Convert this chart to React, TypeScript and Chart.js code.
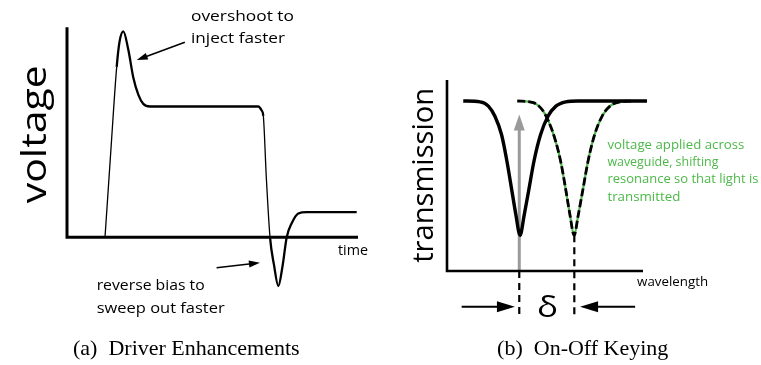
import React, { useEffect, useRef } from "react";
import { Chart, registerables } from "chart.js";

Chart.register(...registerables);

const SANS = '"Open Sans", "Noto Sans", sans-serif';
const SERIF = '"Liberation Serif", "DejaVu Serif", serif';
const GREEN = "rgb(76,184,72)";

// ---------- (a) Driver Enhancements: voltage vs time ----------
const driveTime = [13.06, 15.05, 17.08, 18.04, 19.35, 21.07, 22.78, 24.5, 26.22, 28.52, 65.74, 66.9, 67.46, 68.5, 69.76, 71.13, 72.61, 74.06, 75.5, 77.22, 79.48, 82.37, 99.55];
const driveVoltage = [0, 0.65, 1.29, 1.48, 1.56, 1.42, 1.21, 1.08, 1.01, 0.99, 0.99, 0.96, 0.92, 0.45, 0, -0.21, -0.37, -0.22, 0, 0.106, 0.18, 0.19, 0.19];

// ---------- (b) On-Off Keying: transmission vs wavelength ----------
const wavelengthOff = [8.2, 16.7, 20.9, 24.2, 27.6, 30.2, 32.8, 34.8, 36.9, 39.0, 41.2, 44.0, 47.2, 51.0, 55.0, 60.0, 66.0, 101];
const transmissionOff = [1.0, 0.995, 0.97, 0.91, 0.8, 0.65, 0.47, 0.33, 0.21, 0.33, 0.47, 0.65, 0.8, 0.91, 0.97, 0.995, 1.0, 1.0];
const wavelengthOn = [35.5, 43.6, 48.0, 51.3, 54.7, 57.5, 60.1, 62.1, 64.2, 66.3, 68.5, 71.3, 74.5, 78.3, 82.3, 87.3, 93.3];
const transmissionOn = [1.0, 0.99, 0.95, 0.88, 0.77, 0.64, 0.47, 0.33, 0.21, 0.33, 0.47, 0.65, 0.8, 0.91, 0.97, 0.995, 1.0];

const greenNote = ["voltage applied across", "waveguide, shifting", "resonance so that light is", "transmitted"];
const greenNoteWidths = [137, 111, 151, 73];

type TextOpt = { size: number; width?: number; color?: string; align?: "left" | "center" | "right"; rotate?: boolean; family?: string };

function label(ctx: CanvasRenderingContext2D, str: string, x: number, y: number, o: TextOpt) {
  ctx.save();
  ctx.translate(x, y);
  if (o.rotate) ctx.rotate(-Math.PI / 2);
  ctx.font = `${o.size}px ${o.family ?? SANS}`;
  ctx.fillStyle = o.color ?? "#000";
  ctx.textBaseline = "alphabetic";
  ctx.textAlign = "left";
  const w = ctx.measureText(str).width;
  const sx = o.width ? o.width / w : 1;
  ctx.scale(sx, 1);
  const off = o.align === "center" ? -w / 2 : o.align === "right" ? -w : 0;
  ctx.fillText(str, off, 0);
  ctx.restore();
}

function polyline(ctx: CanvasRenderingContext2D, pts: number[][], color: string, lw: number, dash: number[] = []) {
  ctx.save();
  ctx.strokeStyle = color;
  ctx.lineWidth = lw;
  ctx.setLineDash(dash);
  ctx.lineCap = "butt";
  ctx.lineJoin = "miter";
  ctx.beginPath();
  pts.forEach((p, i) => (i === 0 ? ctx.moveTo(p[0], p[1]) : ctx.lineTo(p[0], p[1])));
  ctx.stroke();
  ctx.restore();
}

function arrow(ctx: CanvasRenderingContext2D, x1: number, y1: number, x2: number, y2: number, color: string, lw: number, hl: number, hw: number) {
  const a = Math.atan2(y2 - y1, x2 - x1);
  ctx.save();
  ctx.strokeStyle = color;
  ctx.fillStyle = color;
  ctx.lineWidth = lw;
  ctx.beginPath();
  ctx.moveTo(x1, y1);
  ctx.lineTo(x2 - Math.cos(a) * hl * 0.8, y2 - Math.sin(a) * hl * 0.8);
  ctx.stroke();
  ctx.translate(x2, y2);
  ctx.rotate(a);
  ctx.beginPath();
  ctx.moveTo(0, 0);
  ctx.lineTo(-hl, -hw / 2);
  ctx.lineTo(-hl, hw / 2);
  ctx.closePath();
  ctx.fill();
  ctx.restore();
}

function mapper(chart: any) {
  const xs = chart.scales.x;
  const ys = chart.scales.y;
  return (x: number, y: number) => [xs.getPixelForValue(x), ys.getPixelForValue(y)];
}

const driverPlugin = {
  id: "driverAnnotations",
  afterDraw(chart: any) {
    const ctx: CanvasRenderingContext2D = chart.ctx;
    const p = mapper(chart);
    // axes
    polyline(ctx, [p(0, 1.59), p(0, 0), p(100, 0)], "#000", 3);
    // axis titles
    let q = p(-7.2, 0.78);
    label(ctx, "voltage", q[0], q[1], { size: 34, width: 138, rotate: true, align: "center" });
    q = p(93.1, -0.135);
    label(ctx, "time", q[0], q[1], { size: 15, width: 30 });
    // overshoot note
    q = p(42.6, 1.64);
    label(ctx, "overshoot to", q[0], q[1], { size: 15, width: 103 });
    q = p(42.6, 1.469);
    label(ctx, "inject faster", q[0], q[1], { size: 15, width: 94 });
    let a = p(40.5, 1.476);
    let b = p(23.95, 1.342);
    arrow(ctx, a[0], a[1], b[0], b[1], "#000", 1.6, 11, 7);
    // reverse bias note
    q = p(10.2, -0.4);
    label(ctx, "reverse bias to", q[0], q[1], { size: 15, width: 108 });
    q = p(10.2, -0.574);
    label(ctx, "sweep out faster", q[0], q[1], { size: 15, width: 128 });
    a = p(51.4, -0.231);
    b = p(66.3, -0.193);
    arrow(ctx, a[0], a[1], b[0], b[1], "#000", 1.6, 11, 7);
    // caption
    q = p(2.06, -0.892);
    label(ctx, "(a)  Driver Enhancements", q[0], q[1], { size: 22, family: SERIF });
  },
};

const keyingPlugin = {
  id: "keyingAnnotations",
  beforeDatasetsDraw(chart: any) {
    const ctx: CanvasRenderingContext2D = chart.ctx;
    const p = mapper(chart);
    const a = p(36.5, 0);
    const b = p(36.5, 0.92);
    arrow(ctx, a[0], a[1], b[0], b[1], "#9a9a9a", 3, 16, 11);
  },
  afterDraw(chart: any) {
    const ctx: CanvasRenderingContext2D = chart.ctx;
    const p = mapper(chart);
    // axes
    polyline(ctx, [p(0, 1.124), p(0, 0), p(99, 0)], "#000", 2.6);
    // dashed markers
    polyline(ctx, [p(36.5, 0), p(36.5, -0.26)], "#000", 2.2, [7, 5]);
    polyline(ctx, [p(64.3, 0.21), p(64.3, -0.26)], "#000", 2.2, [7, 5]);
    // delta arrows
    let a = p(7.4, -0.21);
    let b = p(34.3, -0.21);
    arrow(ctx, a[0], a[1], b[0], b[1], "#000", 2, 18, 11);
    a = p(95, -0.21);
    b = p(67.2, -0.21);
    arrow(ctx, a[0], a[1], b[0], b[1], "#000", 2, 18, 11);
    let q = p(50.8, -0.27);
    label(ctx, "δ", q[0], q[1], { size: 30, width: 21, align: "center" });
    // axis titles
    q = p(-7.1, 0.563);
    label(ctx, "transmission", q[0], q[1], { size: 30, width: 175, rotate: true, align: "center" });
    q = p(96, -0.091);
    label(ctx, "wavelength", q[0], q[1], { size: 13, width: 71 });
    // green note
    const lines = [0.716, 0.618, 0.516, 0.414];
    greenNote.forEach((s, i) => {
      const r = p(81.0, lines[i]);
      label(ctx, s, r[0], r[1], { size: 13.5, width: greenNoteWidths[i], color: GREEN });
    });
    // caption
    q = p(25.3, -0.494);
    label(ctx, "(b)  On-Off Keying", q[0], q[1], { size: 22, family: SERIF });
  },
};

function pts(xs: number[], ys: number[]) {
  return xs.map((x, i) => ({ x, y: ys[i] }));
}

export default function App() {
  const leftRef = useRef<HTMLCanvasElement>(null);
  const rightRef = useRef<HTMLCanvasElement>(null);

  useEffect(() => {
    const charts: Chart[] = [];
    if (leftRef.current) {
      charts.push(
        new Chart(leftRef.current, {
          type: "scatter",
          data: {
            datasets: [
              {
                data: pts(driveTime, driveVoltage),
                showLine: true,
                borderColor: "#000",
                borderWidth: 2.3,
                pointRadius: 0,
                cubicInterpolationMode: "monotone",
                clip: false,
                segment: {
                  borderWidth: (c: any) => (c.p0DataIndex <= 1 || (c.p0DataIndex >= 12 && c.p0DataIndex <= 13) ? 1.3 : 2.3),
                },
              } as any,
            ],
          },
          options: {
            animation: false,
            responsive: false,
            events: [],
            layout: { padding: { left: 67, right: 22, top: 26, bottom: 75 } },
            scales: {
              x: { type: "linear", display: false, min: 0, max: 100 },
              y: { type: "linear", display: false, min: -0.4, max: 1.6 },
            },
            plugins: { legend: { display: false }, tooltip: { enabled: false } },
          },
          plugins: [driverPlugin],
        })
      );
    }
    if (rightRef.current) {
      charts.push(
        new Chart(rightRef.current, {
          type: "scatter",
          data: {
            datasets: [
              {
                data: pts(wavelengthOff, transmissionOff),
                showLine: true,
                borderColor: "#000",
                borderWidth: 3.4,
                pointRadius: 0,
                cubicInterpolationMode: "monotone",
                clip: false,
              } as any,
              {
                data: pts(wavelengthOn, transmissionOn),
                showLine: true,
                borderColor: "#000",
                borderWidth: 2.8,
                borderDash: [8, 3],
                pointRadius: 0,
                cubicInterpolationMode: "monotone",
                clip: false,
              } as any,
              {
                data: pts(wavelengthOn, transmissionOn),
                showLine: true,
                borderColor: GREEN,
                borderWidth: 2.2,
                pointRadius: 0,
                cubicInterpolationMode: "monotone",
                clip: false,
              } as any,
            ],
          },
          options: {
            animation: false,
            responsive: false,
            events: [],
            layout: { padding: { left: 67, right: 116, top: 77.2, bottom: 43 } },
            scales: {
              x: { type: "linear", display: false, min: 0, max: 100 },
              y: { type: "linear", display: false, min: -0.3, max: 1.14 },
            },
            plugins: { legend: { display: false }, tooltip: { enabled: false } },
          },
          plugins: [keyingPlugin],
        })
      );
    }
    return () => charts.forEach((c) => c.destroy());
  }, []);

  return (
    <div style={{ position: "absolute", left: 0, top: 0, width: 761, height: 365, background: "#fff", overflow: "hidden" }}>
      <canvas ref={leftRef} width={380} height={365} style={{ position: "absolute", left: 0, top: 0 }} />
      <canvas ref={rightRef} width={381} height={365} style={{ position: "absolute", left: 380, top: 0 }} />
    </div>
  );
}
